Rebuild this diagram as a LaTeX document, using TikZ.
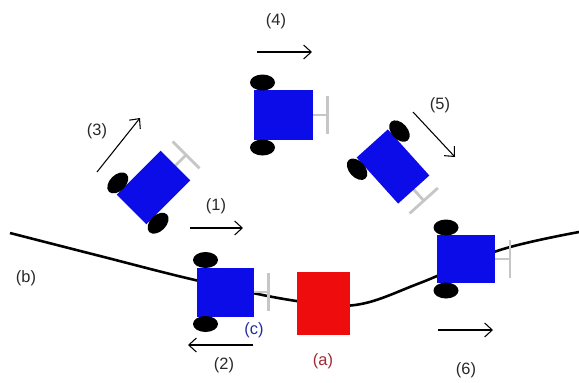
\documentclass[tikz,border=0pt]{standalone}
\usepackage{fontspec}
\setmainfont{Liberation Sans}
\usetikzlibrary{arrows.meta}

\definecolor{botblue}{RGB}{12,12,232}
\definecolor{goalred}{RGB}{238,12,12}
\definecolor{tagred}{RGB}{160,40,50}
\definecolor{tagblue}{RGB}{35,45,160}
\definecolor{tagtext}{RGB}{40,40,40}

\begin{document}
\begin{tikzpicture}[x=0.03cm,y=-0.03cm,thick]
    % `body' and `wheel' make up each robot, `bumper' is the grey T at its front.
    % `move' is used for the motion arrows, `tag' for all the labels.
    \tikzstyle{body} = [fill=botblue]
    \tikzstyle{wheel} = [fill=black]
    \tikzstyle{bumper} = [draw=gray!45,line width=2.4pt]
    \tikzstyle{track} = [draw=black,line width=2.2pt]
    \tikzstyle{goal} = [draw=none,fill=goalred,minimum width=1.59cm,minimum height=1.89cm,inner sep=0pt]
    \tikzstyle{move} = [draw=black,line width=0.9pt,-{Straight Barb[length=6.5pt,width=12pt]}]
    \tikzstyle{tag} = [text=tagtext,font=\fontsize{14}{16}\selectfont,inner sep=1pt]
    % one robot: #1 = length along heading, #2 = width
    \tikzset{pics/robot/.style 2 args={code={
      \draw[bumper] (#1/2,0) -- (#1/2+15,0) (#1/2+15,-19) -- (#1/2+15,19);
      \fill[body] (-#1/2,-#2/2) rectangle (#1/2,#2/2);
      \fill[wheel] (-#1/2+9,-#2/2-7.5) ellipse [x radius=12.5,y radius=8]
                   (-#1/2+9,#2/2+7.5) ellipse [x radius=12.5,y radius=8];
    }}}
    \useasboundingbox (0,0) rectangle (579,382);
    %
    % the path (b)
    \draw[track] plot[smooth,tension=0.6] coordinates
      {(10,233) (100,256) (195,280) (290,300) (355,305) (420,283) (500,250) (579,232)};
    % target (a)
    \node[goal] (target) at (323.5,303.5) {};
    %
    % robots along the way
    \pic (rc) at (225,292) {robot={57}{49}};
    \pic[rotate=45] (r3) at (153.5,187.5) {robot={62}{42}};
    \pic (r4) at (283,115) {robot={59}{50}};
    \pic[rotate=-48] (r5) at (393,166.5) {robot={62}{42}};
    \pic (r6) at (466,259) {robot={58}{48}};
    %
    % motion arrows
    \coordinate (m1a) at (190,228);  \coordinate (m1b) at (243,228);
    \coordinate (m2a) at (253,345);  \coordinate (m2b) at (188,345);
    \coordinate (m3a) at (97,172);   \coordinate (m3b) at (140,118);
    \coordinate (m4a) at (257,52);   \coordinate (m4b) at (312,52);
    \coordinate (m5a) at (413,112);  \coordinate (m5b) at (455,157);
    \coordinate (m6a) at (438,330);  \coordinate (m6b) at (493,330);
    \draw[move] (m1a) -- (m1b);
    \draw[move] (m2a) -- (m2b);
    \draw[move] (m3a) -- (m3b);
    \draw[move] (m4a) -- (m4b);
    \draw[move] (m5a) -- (m5b);
    \draw[move] (m6a) -- (m6b);
    %
    % labels
    \node[tag] (t1) at (216,206) {(1)};
    \node[tag] (t2) at (224,365) {(2)};
    \node[tag] (t3) at (97,131) {(3)};
    \node[tag] (t4) at (276,21) {(4)};
    \node[tag] (t5) at (440,105) {(5)};
    \node[tag] (t6) at (466,370) {(6)};
    \node[tag,text=tagred] (ta) at (323,361) {(a)};
    \node[tag] (tb) at (26,278) {(b)};
    \node[tag,text=tagblue] (tc) at (254,330) {(c)};
\end{tikzpicture}
\end{document}
